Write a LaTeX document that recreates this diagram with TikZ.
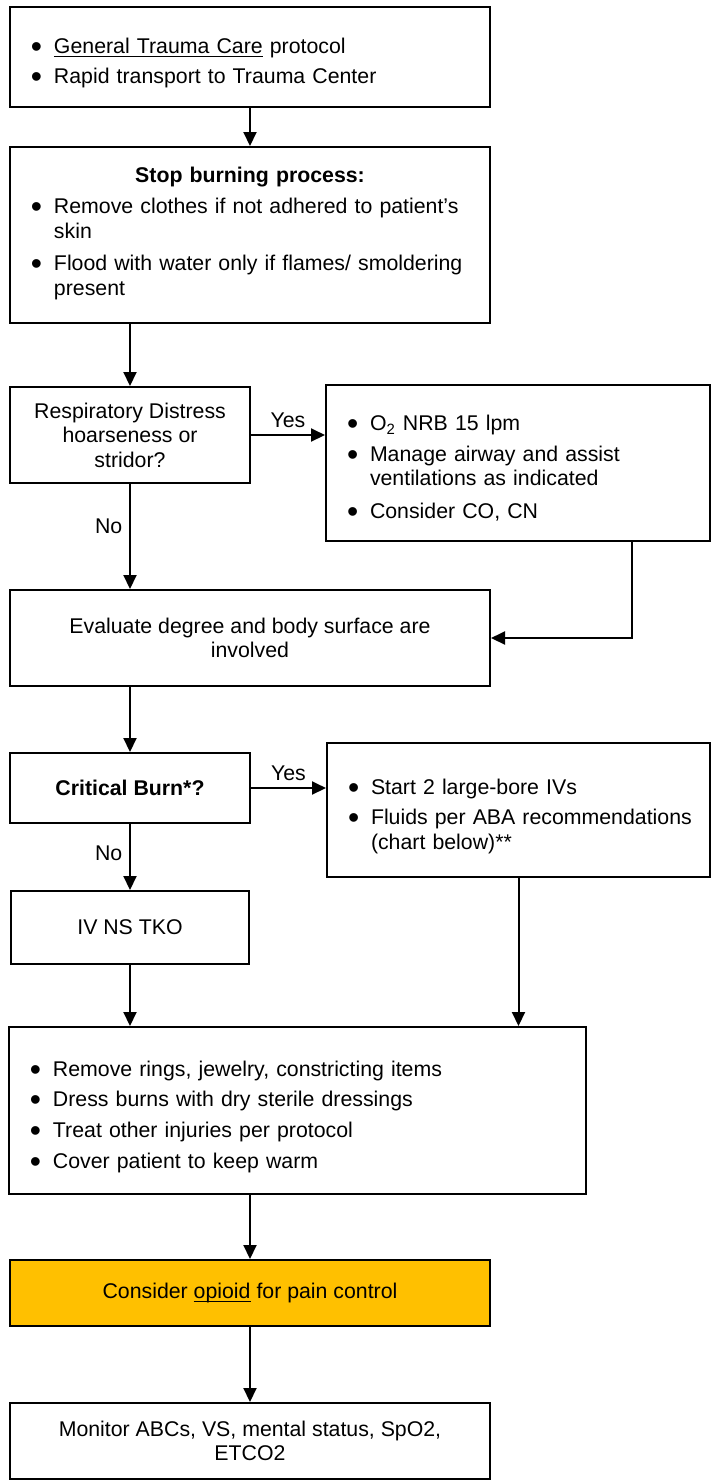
\documentclass[tikz,border=0pt]{standalone}
\usepackage{graphicx}
\usepackage{fontspec}
\setmainfont{Liberation Sans}
\usetikzlibrary{arrows.meta}
\definecolor{painfill}{HTML}{FFC000}
\newcommand{\bitem}[1]{\par\noindent\makebox[11.5pt][l]{\raisebox{-2pt}{\scalebox{1.5}{\textbullet}}}\begin{tabular}[t]{@{}l@{}}#1\end{tabular}\par}
\newcommand{\uln}[1]{\underline{\smash{#1}}}

\begin{document}
\begin{tikzpicture}[x=0.5pt, y=-0.5pt,
	every node/.style={font=\fontsize{10.65pt}{12.3pt}\selectfont},
	box/.style={draw, line width=1pt, inner sep=0pt, align=center},
	listbox/.style={box, align=left, inner xsep=10.5pt, execute at begin node={\setlength{\parskip}{3pt}}},
	flow/.style={line width=1pt, -{Triangle[width=6.5pt,length=7pt]}}]
	\useasboundingbox (0,0) rectangle (712,1480);
	% boxes
	\node[listbox, text width=219pt, minimum width=240pt, minimum height=50pt] (gtc) at (250,57) {\bitem{\uln{General Trauma Care} protocol}\bitem{Rapid transport to Trauma Center}};
	\node[listbox, text width=219pt, minimum width=240pt, minimum height=88pt] (stop) at (250,235) {{\centering\bfseries Stop burning process:\par}\bitem{Remove clothes if not adhered to patient's\\ skin}\bitem{Flood with water only if flames/ smoldering\\ present}};
	\node[box, minimum width=120pt, minimum height=48pt] (resp) at (130,435) {Respiratory Distress\\ hoarseness or\\ stridor?};
	\node[listbox, text width=171pt, minimum width=192pt, minimum height=78pt] (o2) at (518,463) {\bitem{O\textsubscript{2} NRB 15 lpm}\bitem{Manage airway and assist\\ ventilations as indicated}\bitem{Consider CO, CN}};
	\node[box, minimum width=240pt, minimum height=48pt] (eval) at (250,638) {Evaluate degree and body surface are\\ involved};
	\node[box, minimum width=120pt, minimum height=35pt] (crit) at (130,788) {\textbf{Critical Burn*?}};
	\node[listbox, text width=170.5pt, minimum width=191.5pt, minimum height=67pt] (fluids) at (518.5,810) {\bitem{Start 2 large-bore IVs}\bitem{Fluids per ABA recommendations\\ (chart below)**}};
	\node[box, minimum width=119pt, minimum height=36.5pt] (ivns) at (130,927.5) {IV NS TKO};
	\node[listbox, text width=267.5pt, minimum width=288.5pt, minimum height=83.5pt] (care) at (297.5,1110.5) {\bitem{Remove rings, jewelry, constricting items}\bitem{Dress burns with dry sterile dressings}\bitem{Treat other injuries per protocol}\bitem{Cover patient to keep warm}};
	\node[box, fill=painfill, minimum width=240pt, minimum height=33pt] (pain) at (250,1293) {Consider \uln{opioid} for pain control};
	\node[box, minimum width=240pt, minimum height=38pt] (monitor) at (250,1441) {Monitor ABCs, VS, mental status, SpO2,\\ ETCO2};
	% connectors
	\coordinate (bend) at (632,638);
	\draw[flow] (gtc) -- (stop);
	\draw[flow] (resp.north |- stop.south) -- (resp.north);
	\draw[flow] (resp.east) -- node[above] {Yes} (resp.east -| o2.west);
	\draw[flow] (resp.south) -- node[left, pos=0.4] {No} (resp.south |- eval.north);
	\draw[flow] (o2.south -| bend) |- (eval.east);
	\draw[flow] (crit.north |- eval.south) -- (crit.north);
	\draw[flow] (crit.east) -- node[above] {Yes} (crit.east -| fluids.west);
	\draw[flow] (crit) -- node[left, pos=0.45] {No} (ivns);
	\draw[flow] (ivns.south) -- (ivns.south |- care.north);
	\draw[flow] (fluids.south) -- (fluids.south |- care.north);
	\draw[flow] (pain.north |- care.south) -- (pain.north);
	\draw[flow] (pain) -- (monitor);
\end{tikzpicture}
\end{document}
